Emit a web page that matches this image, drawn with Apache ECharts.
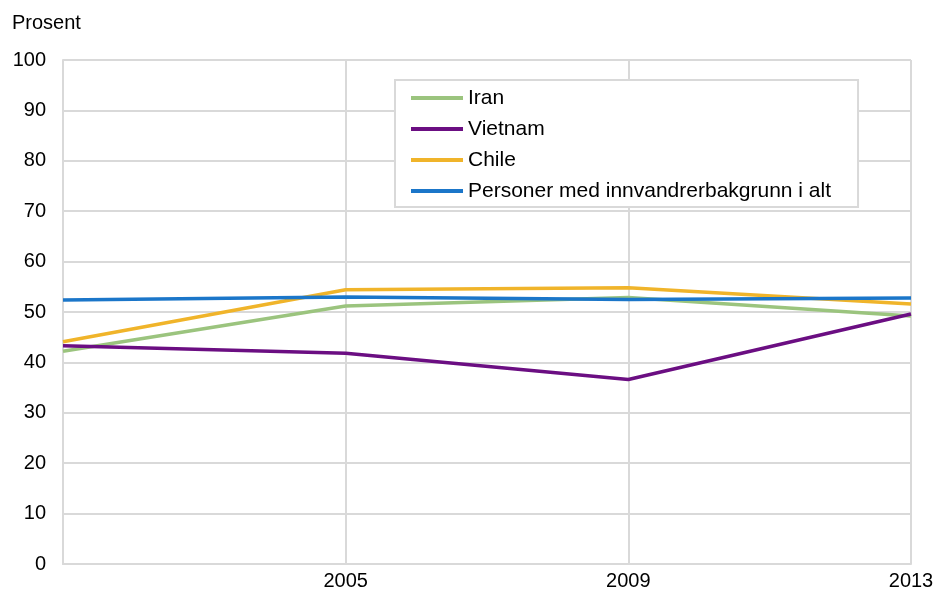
<!DOCTYPE html>
<html>
<head>
<meta charset="utf-8">
<script src="https://cdn.jsdelivr.net/npm/echarts@6/dist/echarts.min.js"></script>
<style>
  html, body { margin: 0; padding: 0; background: #fff; }
  #chart { width: 939px; height: 592px; }
</style>
</head>
<body>
<div id="chart"></div>
<script>
// Survey years along the x axis (first year is left unlabeled)
const years = ['2001', '2005', '2009', '2013'];
const yTicks = [0, 10, 20, 30, 40, 50, 60, 70, 80, 90, 100];

// Share in percent per group
const iran = [42.2, 51.2, 52.9, 49.2];
const vietnam = [43.3, 41.8, 36.6, 49.6];
const chile = [44.1, 54.4, 54.8, 51.6];
const allImmigrants = [52.4, 53.0, 52.5, 52.8];

const seriesNames = ['Iran', 'Vietnam', 'Chile', 'Personer med innvandrerbakgrunn i alt'];
const seriesColors = ['#9BC47E', '#6B0E82', '#F0B42A', '#1B76C9'];
const seriesData = [iran, vietnam, chile, allImmigrants];

const font = 'Liberation Sans, Arial, sans-serif';
const gridColor = '#d9d9d9';

const chart = echarts.init(document.getElementById('chart'), null, { renderer: 'canvas' });

chart.setOption({
  animation: false,
  backgroundColor: '#fff',
  textStyle: { fontFamily: font },
  grid: { left: 63, right: 28, top: 60, bottom: 28, containLabel: false },
  title: {
    text: 'Prosent',
    left: 7,
    top: 8,
    textStyle: { fontFamily: font, fontSize: 20, fontWeight: 'normal', color: '#000' }
  },
  legend: {
    orient: 'vertical',
    left: 395,
    top: 80,
    padding: [7, 27, 5, 16],
    itemWidth: 52,
    itemHeight: 4,
    itemGap: 9,
    icon: 'rect',
    borderColor: gridColor,
    borderWidth: 2,
    backgroundColor: '#fff',
    textStyle: { fontFamily: font, fontSize: 21, lineHeight: 22, color: '#000' },
    data: seriesNames
  },
  xAxis: {
    type: 'category',
    boundaryGap: false,
    data: years,
    axisLine: { lineStyle: { color: gridColor, width: 2 } },
    axisTick: { show: false },
    axisLabel: {
      interval: (idx) => idx > 0,
      color: '#000',
      fontFamily: font,
      fontSize: 20,
      margin: 7
    },
    splitLine: { show: true, lineStyle: { color: gridColor, width: 2 } }
  },
  yAxis: {
    type: 'value',
    min: yTicks[0],
    max: yTicks[yTicks.length - 1],
    interval: yTicks[1] - yTicks[0],
    axisLine: { show: true, lineStyle: { color: gridColor, width: 2 } },
    axisTick: { show: false },
    axisLabel: { color: '#000', fontFamily: font, fontSize: 20, margin: 17 },
    splitLine: { show: true, lineStyle: { color: gridColor, width: 2 } }
  },
  series: seriesNames.map((name, i) => ({
    name: name,
    type: 'line',
    data: seriesData[i],
    symbol: 'none',
    color: seriesColors[i],
    lineStyle: { color: seriesColors[i], width: 3.5 },
    z: 2 + i
  }))
});
</script>
</body>
</html>
